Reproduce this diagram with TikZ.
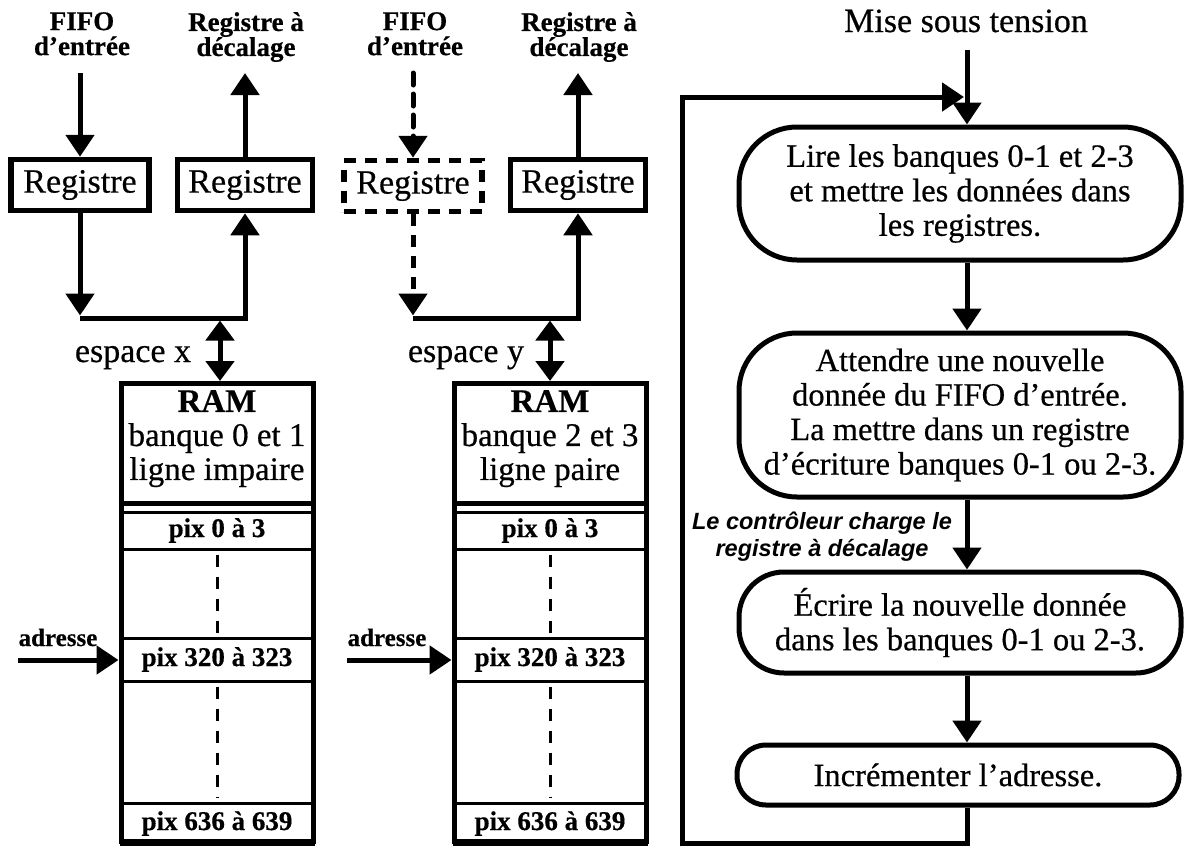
\documentclass[tikz,border=0pt]{standalone}
\usepackage{fontspec}
\setmainfont{Liberation Serif}[FakeBold=0.5]
\newfontfamily\notefont{Liberation Sans}
\usetikzlibrary{arrows.meta}
\newcommand\txtL{\fontsize{34}{34.5}\selectfont}
\newcommand\txtF{\fontsize{32.5}{34.5}\selectfont}
\newcommand\txtH{\fontsize{33}{34}\selectfont}
\newcommand\txtT{\fontsize{27}{25}\selectfont\bfseries}
\newcommand\txtP{\fontsize{27}{28}\selectfont\bfseries}
\newcommand\txtA{\fontsize{25}{26}\selectfont\bfseries}
\newcommand\txtN{\fontsize{23.5}{27}\selectfont\notefont\bfseries\itshape}
\begin{document}
\begin{tikzpicture}[x=1pt,y=-1pt,
  line join=miter,
  thickln/.style={line width=5pt},
  tip/.style={-{Triangle[length=22pt,width=28pt]}},
  dtip/.style={{Triangle[length=20pt,width=28pt]}-{Triangle[length=20pt,width=28pt]}},
  dashln/.style={dash pattern=on 12pt off 9pt},
  regbox/.style={draw, line width=5.5pt, minimum width=138pt, minimum height=51pt, inner sep=0pt, font=\txtL},
  toplbl/.style={font=\txtT, align=center, inner sep=0pt, anchor=north},
  ramrow/.style={draw, line width=3pt, minimum width=192pt, inner sep=0pt, font=\txtP},
  ramout/.style={draw, line width=5pt, minimum width=192pt, minimum height=458pt, inner sep=0pt, anchor=north},
  ramhdr/.style={font=\txtH, align=center, anchor=north, inner sep=0pt},
  gapln/.style={line width=3pt, dash pattern=on 12pt off 10pt, shorten <=4pt, shorten >=4pt},
  flow/.style={draw, line width=5pt, minimum width=442pt, inner sep=0pt, align=center, font=\txtF},
]
\useasboundingbox (0,0) rectangle (1184,849);

% ---------------- Panel 1 ----------------
\node[toplbl] (fifoA) at (82,12) {FIFO\\d’entrée};
\node[toplbl] (shiftA) at (246,12) {Registre à\\décalage};
\node[regbox] (regA) at (80,185) {Registre};
\node[regbox, minimum width=135pt] (regB) at (245,185) {Registre};
\coordinate (inA) at (80,73);
\coordinate (outA) at (245,73);
\coordinate (busAL) at (80,318);
\coordinate (busAR) at (245,318);
\coordinate (busAM) at (220,318);
\draw[thickln,tip] (inA) -- (regA.north);
\draw[thickln,tip] (regB.north) -- (outA);
\draw[thickln,tip] (regA.south) -- ([yshift=2.5pt]busAL);
\draw[thickln,tip] (busAL) -- (busAR) -- (regB.south);

\node[ramrow, minimum height=37pt] (pA0) at (217,530.5) {pix 0 à 3};
\node[ramrow, minimum height=43pt] (pA1) at (217,659.5) {pix 320 à 323};
\node[ramrow, minimum height=41pt] (pA2) at (217,823.5) {pix 636 à 639};
\node[ramout] (ramA) at (217,381) {};
\node[ramhdr] (hdrA) at (217,390) {\textbf{RAM}\\banque 0 et 1\\ligne impaire};
\coordinate (hA) at (217,503);
\draw[thickln] (hA -| ramA.west) -- (hA -| ramA.east);
\draw[gapln] (pA0.south) -- (pA1.north);
\draw[gapln] (pA1.south) -- (pA2.north);
\draw[thickln,dtip] ([yshift=-2.5pt]busAM) -- (ramA.north -| busAM);
\node[font=\txtL, anchor=base] (espA) at (133,362) {espace x};
\coordinate (adA) at (18,660);
\draw[thickln,tip] (adA) -- (adA -| ramA.west);
\node[font=\txtA, anchor=base] (adlA) at (58,646) {adresse};

% ---------------- Panel 2 ----------------
\node[toplbl] (fifoB) at (415,12) {FIFO\\d’entrée};
\node[toplbl] (shiftB) at (579,12) {Registre à\\décalage};
\node[regbox, dashln] (regC) at (413,186) {Registre};
\node[regbox, minimum width=135pt] (regD) at (578,185) {Registre};
\coordinate (inB) at (413,73);
\coordinate (outB) at (578,73);
\coordinate (busBL) at (413,318);
\coordinate (busBR) at (578,318);
\coordinate (busBM) at (550,318);
\draw[thickln,dashln,line cap=round,tip] (inB) -- (regC.north);
\draw[thickln,tip] (regD.north) -- (outB);
\draw[thickln,dashln,tip] (regC.south) -- ([yshift=2.5pt]busBL);
\draw[thickln,tip] (busBL) -- (busBR) -- (regD.south);

\node[ramrow, minimum height=37pt] (pB0) at (550,530.5) {pix 0 à 3};
\node[ramrow, minimum height=43pt] (pB1) at (550,659.5) {pix 320 à 323};
\node[ramrow, minimum height=41pt] (pB2) at (550,823.5) {pix 636 à 639};
\node[ramout] (ramB) at (550,381) {};
\node[ramhdr] (hdrB) at (550,390) {\textbf{RAM}\\banque 2 et 3\\ligne paire};
\coordinate (hB) at (550,503);
\draw[thickln] (hB -| ramB.west) -- (hB -| ramB.east);
\draw[gapln] (pB0.south) -- (pB1.north);
\draw[gapln] (pB1.south) -- (pB2.north);
\draw[thickln,dtip] ([yshift=-2.5pt]busBM) -- (ramB.north -| busBM);
\node[font=\txtL, anchor=base] (espB) at (466,362) {espace y};
\coordinate (adB) at (347,660);
\draw[thickln,tip] (adB) -- (adB -| ramB.west);
\node[font=\txtA, anchor=base] (adlB) at (387,646) {adresse};

% ---------------- Flowchart ----------------
\node[font=\txtL, anchor=base] (mise) at (966,32) {Mise sous tension};
\coordinate (ax) at (967,50);
\node[flow, minimum height=133pt, rounded corners=58pt] (f1) at (960,193.5)
  {Lire les banques 0-1 et 2-3\\et mettre les données dans\\les registres.};
\node[flow, minimum height=164pt, rounded corners=58pt] (f2) at (960,415)
  {Attendre une nouvelle\\donnée du FIFO d’entrée.\\La mettre dans un registre\\d’écriture banques 0-1 ou 2-3.};
\node[flow, minimum height=101pt, rounded corners=45pt] (f3) at (960,622.5)
  {Écrire la nouvelle donnée\\dans les banques 0-1 ou 2-3.};
\node[flow, minimum height=60pt, rounded corners=29pt] (f4) at (958,775)
  {Incrémenter l’adresse.};
\draw[thickln,tip] (ax) -- (ax |- f1.north);
\draw[thickln,tip] (ax |- f1.south) -- (ax |- f2.north);
\draw[thickln,tip] (ax |- f2.south) -- (ax |- f3.north);
\draw[thickln,tip] (ax |- f3.south) -- (ax |- f4.north);
\coordinate (lpB) at (682,843);
\coordinate (lpT) at (964,97);
\draw[thickln,tip] (ax |- f4.south) -- (ax |- lpB) -- (lpB) -- (lpB |- lpT) -- (lpT);
\node[font=\txtN, align=center] (note) at (822,537) {Le contrôleur charge le\\registre à décalage};
\end{tikzpicture}
\end{document}
